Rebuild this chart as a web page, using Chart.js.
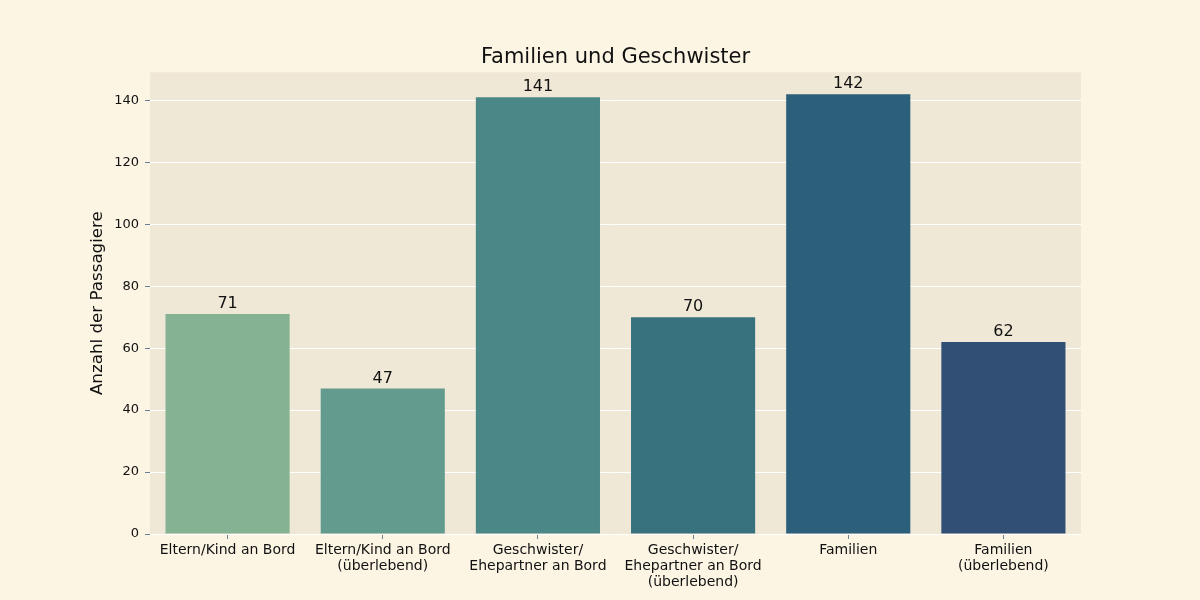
<!DOCTYPE html>
<html>
<head>
<meta charset="utf-8">
<script src="https://cdn.jsdelivr.net/npm/chart.js@4"></script>
<style>
  html, body { margin: 0; padding: 0; background: #fdf5e4; }
  #wrap { width: 1200px; height: 600px; }
</style>
</head>
<body>
<div id="wrap"><canvas id="chart"></canvas></div>
<script>
const categories = [
  "Eltern/Kind an Bord",
  ["Eltern/Kind an Bord", "(überlebend)"],
  ["Geschwister/", "Ehepartner an Bord"],
  ["Geschwister/", "Ehepartner an Bord", "(überlebend)"],
  "Familien",
  ["Familien", "(überlebend)"],
];
const counts = [71, 47, 141, 70, 142, 62];
const barColors = ["#86b294", "#639c8e", "#4b8786", "#38727e", "#2b5f7a", "#314f75"];
const yTicks = [0, 20, 40, 60, 80, 100, 120, 140];

const FONT = "'DejaVu Sans', sans-serif";

// plot area background + title centred over the plot area
const areaBg = {
  id: "areaBg",
  afterLayout(chart) {
    const t = chart.titleBlock;
    if (t) { t.left = chart.chartArea.left; t.right = chart.chartArea.right; }
  },
  beforeDraw(chart) {
    const { ctx, chartArea: a } = chart;
    ctx.save();
    ctx.fillStyle = "#f0e8d6";
    ctx.fillRect(a.left, a.top, a.right - a.left, a.bottom - a.top);
    ctx.restore();
  },
};

// value labels above bars
const barValues = {
  id: "barValues",
  afterDatasetsDraw(chart) {
    const { ctx } = chart;
    const meta = chart.getDatasetMeta(0);
    ctx.save();
    ctx.font = `16px ${FONT}`;
    ctx.fillStyle = "#111";
    ctx.textAlign = "center";
    ctx.textBaseline = "bottom";
    meta.data.forEach((bar, i) => {
      ctx.fillText(String(counts[i]), bar.x, bar.y - 2);
    });
    ctx.restore();
  },
};

new Chart(document.getElementById("chart").getContext("2d"), {
  type: "bar",
  data: {
    labels: categories,
    datasets: [{
      data: counts,
      backgroundColor: barColors,
      borderWidth: 0,
      categoryPercentage: 1,
      barPercentage: 0.8,
    }],
  },
  options: {
    responsive: true,
    maintainAspectRatio: false,
    animation: false,
    layout: { padding: { top: 42, left: 80, right: 119, bottom: 0 } },
    plugins: {
      legend: { display: false },
      tooltip: { enabled: false },
      title: {
        display: true,
        text: "Familien und Geschwister",
        color: "#111",
        font: { family: FONT, size: 21, weight: "normal", lineHeight: 1.2 },
        padding: { top: 3, bottom: 2 },
      },
    },
    scales: {
      x: {
        grid: { offset: false, drawOnChartArea: false, tickLength: 5, tickColor: "#6b8094", tickWidth: 1 },
        border: { display: false },
        ticks: { color: "#111", font: { family: FONT, size: 14, lineHeight: 1.15 }, padding: 3, maxRotation: 0, autoSkip: false },
        afterFit(scale) { scale.height = 66; },
      },
      y: {
        min: 0,
        max: 149.1,
        afterBuildTicks(scale) { scale.ticks = yTicks.map((v) => ({ value: v })); },
        grid: { color: "#ffffff", lineWidth: 1, tickLength: 5, tickColor: "#6b8094" },
        border: { display: false },
        ticks: { color: "#111", font: { family: FONT, size: 13 }, padding: 6 },
        title: {
          display: true,
          text: "Anzahl der Passagiere",
          color: "#111",
          font: { family: FONT, size: 16.7 },
          padding: { top: 8, bottom: 0 },
        },
        afterFit(scale) { scale.width = 70; },
      },
    },
  },
  plugins: [areaBg, barValues],
});
</script>
</body>
</html>
